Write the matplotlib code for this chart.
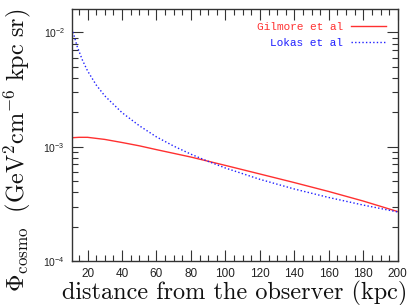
import numpy as np
import matplotlib
matplotlib.use("Agg")
from matplotlib import pyplot as plt
from matplotlib.ticker import MultipleLocator, LogLocator, NullFormatter

# distance from the observer (kpc) and flux
gilmore_x = [11, 15, 20, 30, 40, 50, 60, 80, 100, 120, 140, 160, 180, 200]
gilmore_y = [1.20e-3, 1.21e-3, 1.21e-3, 1.16e-3, 1.09e-3, 1.02e-3, 9.44e-4,
             8.13e-4, 6.87e-4, 5.78e-4, 4.86e-4, 4.06e-4, 3.35e-4, 2.71e-4]

lokas_x = [11, 14, 17, 20, 25, 30, 40, 50, 60, 70, 80, 90, 100, 120, 140, 160, 180, 200]
lokas_y = [1.084e-2, 7.55e-3, 5.75e-3, 4.62e-3, 3.48e-3, 2.79e-3, 1.99e-3, 1.53e-3,
           1.22e-3, 1.014e-3, 8.61e-4, 7.45e-4, 6.52e-4, 5.19e-4, 4.27e-4,
           3.60e-4, 3.09e-4, 2.69e-4]

x_ticks = [20, 40, 60, 80, 100, 120, 140, 160, 180, 200]

plt.rcParams['mathtext.fontset'] = 'cm'
plt.rcParams['font.family'] = 'Liberation Sans'

fig = plt.figure(figsize=(4.15, 3.05), dpi=100)
ax = fig.add_axes([0.1735, 0.144, 0.785, 0.826])

ax.plot(gilmore_x, gilmore_y, color='#ff3030', lw=1.0, label='Gilmore et al')
ax.plot(lokas_x, lokas_y, color='#2020ff', lw=1.0, ls=(0, (1, 1.6)), label='Lokas et al')

ax.set_yscale('log')
ax.set_xlim(11, 200)
ax.set_ylim(1e-4, 0.016)

ax.set_xticks(x_ticks)
ax.xaxis.set_minor_locator(MultipleLocator(5))
ax.yaxis.set_major_locator(LogLocator(base=10, numticks=10))
ax.yaxis.set_minor_locator(LogLocator(base=10, subs=np.arange(2, 10), numticks=20))
ax.yaxis.set_minor_formatter(NullFormatter())

ax.tick_params(which='both', direction='in', top=True, right=True, color='#333333')
ax.tick_params(which='major', length=8, width=0.8, labelsize=8.5, pad=5,
               labelcolor='#222222')
ax.tick_params(which='minor', length=4, width=0.8)
ax.tick_params(axis='y', which='major', labelsize=7.5)
for s in ax.spines.values():
    s.set_linewidth(1.0)
    s.set_color('#333333')

ax.set_xlabel('distance from the observer (kpc)', fontfamily='cmr10', fontsize=17.5,
              color='#111111')
ax.xaxis.set_label_coords(0.5, -0.08)
ax.set_ylabel(r'$\Phi_{\rm cosmo}\ \ ({\rm GeV^2cm^{-6}\ kpc\ sr})$', fontsize=17.5,
              color='#111111')
ax.yaxis.set_label_coords(-0.12, 0.44)

leg = ax.legend(loc='upper right', bbox_to_anchor=(0.995, 0.988), frameon=False,
                markerfirst=False, prop={'family': 'Liberation Mono', 'size': 8},
                handlelength=3.2, handletextpad=0.7, labelspacing=0.55,
                borderaxespad=0.5)
for txt, c in zip(leg.get_texts(), ['#ff3030', '#2020ff']):
    txt.set_color(c)

fig.savefig('out.png', dpi=100)
plt.close()
